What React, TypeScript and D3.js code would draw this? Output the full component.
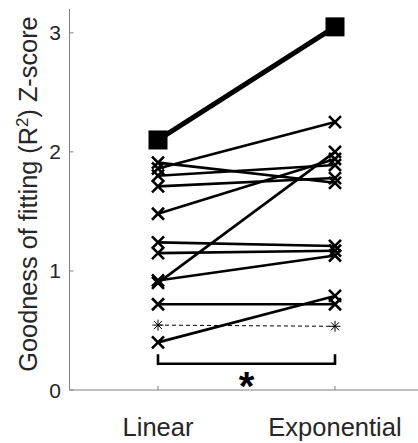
import React from 'react';
import * as d3 from 'd3';

// fit quality per subject, Linear vs Exponential model
const conditions = ['Linear', 'Exponential'];
const linearScores = [1.91, 1.86, 1.80, 1.71, 1.48, 1.24, 1.15, 0.92, 0.90, 0.72, 0.40];
const exponentialScores = [1.74, 2.25, 1.89, 1.78, 1.94, 1.21, 1.17, 1.13, 2.0, 0.72, 0.79];
const meanScores = [2.1, 3.05];
const chanceScores = [0.545, 0.535];
const yTicks = [0, 1, 2, 3];

const width = 418;
const height = 443;
const font = 'Liberation Sans, Arial, sans-serif';

const App: React.FC = () => {
  const x = d3.scaleLinear().domain([0.5, 2.5]).range([69.5, 423.5]);
  const y = d3.scaleLinear().domain([0, 3.2]).range([390, 9]);
  const xc = (i: number) => x(i + 1);

  const line = d3.line<number>()
    .x((_, i) => xc(i))
    .y(d => y(d));

  const cross = (cx: number, cy: number, key: string) => {
    const r = 6;
    return (
      <path
        key={key}
        d={`M${cx - r},${cy - r}L${cx + r},${cy + r}M${cx - r},${cy + r}L${cx + r},${cy - r}`}
        stroke="#000"
        strokeWidth={2.6}
        fill="none"
      />
    );
  };

  const asterisk = (cx: number, cy: number, key: string) => {
    const r = 5.5;
    const d = r * 0.72;
    return (
      <path
        key={key}
        d={`M${cx - r},${cy}L${cx + r},${cy}M${cx},${cy - r}L${cx},${cy + r}M${cx - d},${cy - d}L${cx + d},${cy + d}M${cx - d},${cy + d}L${cx + d},${cy - d}`}
        stroke="#000"
        strokeWidth={1}
        fill="none"
      />
    );
  };

  const bracketY = y(0.22);
  const bracketTop = y(0.3);

  return (
    <svg width={width} height={height} style={{ position: 'absolute', left: 0, top: 0 }} fontFamily={font}>
      {/* axes */}
      <line x1={x(0.5)} x2={x(2.5)} y1={y(0)} y2={y(0)} stroke="#808080" strokeWidth={1} />
      <line x1={x(0.5)} x2={x(0.5)} y1={y(0)} y2={y(3.2)} stroke="#808080" strokeWidth={1} />
      {yTicks.map(t => (
        <g key={t}>
          <line x1={x(0.5)} x2={x(0.5) + 4} y1={y(t)} y2={y(t)} stroke="#808080" />
          <text x={61} y={y(t)} dy="0.36em" textAnchor="end" fontSize={21} fill="#262626">{t}</text>
        </g>
      ))}
      {conditions.map((c, i) => (
        <g key={c}>
          <line x1={xc(i)} x2={xc(i)} y1={y(0)} y2={y(0) - 4} stroke="#808080" />
          <text x={xc(i)} y={436} textAnchor="middle" fontSize={25.5} fill="#262626">{c}</text>
        </g>
      ))}
      <text
        transform={`translate(37,194) rotate(-90)`}
        textAnchor="middle"
        fontSize={25.3}
        fill="#262626"
      >
        Goodness of fitting (R<tspan dy={-9} fontSize={17}>2</tspan><tspan dy={9}>) Z-score</tspan>
      </text>

      {/* subjects */}
      {linearScores.map((v, k) => (
        <g key={k}>
          <path d={line([v, exponentialScores[k]]) || ''} stroke="#000" strokeWidth={2.6} fill="none" />
          {cross(xc(0), y(v), `l${k}`)}
          {cross(xc(1), y(exponentialScores[k]), `e${k}`)}
        </g>
      ))}

      {/* chance level */}
      <path d={line(chanceScores) || ''} stroke="#000" strokeWidth={1} strokeDasharray="4,3" fill="none" />
      {chanceScores.map((v, i) => asterisk(xc(i), y(v), `c${i}`))}

      {/* mean */}
      <path d={line(meanScores) || ''} stroke="#000" strokeWidth={5} fill="none" />
      {meanScores.map((v, i) => (
        <rect key={i} x={xc(i) - 9.5} y={y(v) - 9.5} width={19} height={19} fill="#000" />
      ))}

      {/* significance bracket */}
      <path
        d={`M${xc(0)},${bracketTop}V${bracketY}H${xc(1)}V${bracketTop}`}
        stroke="#000"
        strokeWidth={2.6}
        fill="none"
      />
      <text x={(xc(0) + xc(1)) / 2} y={y(0.22) + 36} textAnchor="middle" fontSize={40} fontWeight="bold">*</text>
    </svg>
  );
};

export default App;
